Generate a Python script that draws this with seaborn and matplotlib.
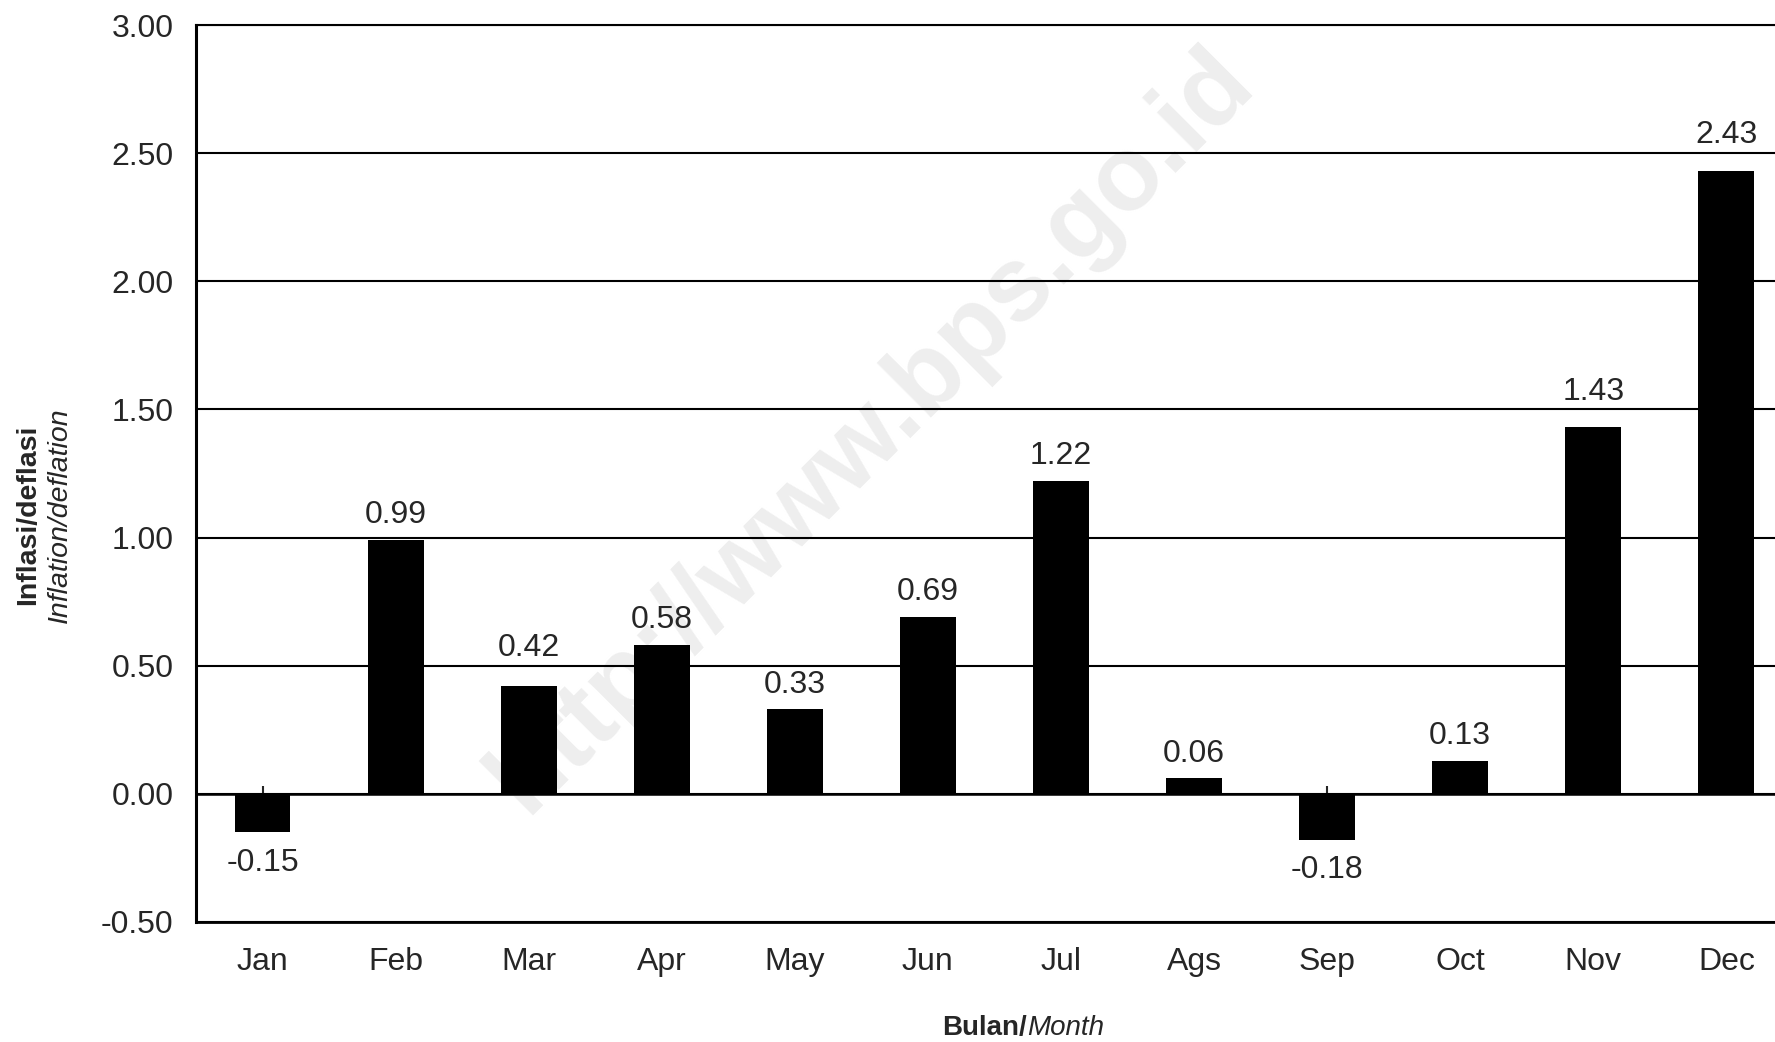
import matplotlib
matplotlib.use('Agg')
import matplotlib.pyplot as plt
import pandas as pd
import seaborn as sns

months = ['Jan', 'Feb', 'Mar', 'Apr', 'May', 'Jun', 'Jul', 'Ags', 'Sep', 'Oct', 'Nov', 'Dec']
inflation = [-0.15, 0.99, 0.42, 0.58, 0.33, 0.69, 1.22, 0.06, -0.18, 0.13, 1.43, 2.43]
yticks = [-0.5, 0.0, 0.5, 1.0, 1.5, 2.0, 2.5, 3.0]

sns.set_style('white')
plt.rcParams['font.family'] = ['Liberation Sans', 'DejaVu Sans']

df = pd.DataFrame({'Month': months, 'Inflation': inflation})

fig = plt.figure(figsize=(17.75, 10.42), dpi=100)
ax = fig.add_axes([0.1104, 0.1152, 0.8997, 0.8608])

sns.barplot(data=df, x='Month', y='Inflation', color='black', saturation=1,
            width=0.42, edgecolor='black', linewidth=0, ax=ax, zorder=2)

# value labels; move a label above a gridline when it would sit on top of it
for i, v in enumerate(inflation):
    if v < 0:
        ax.annotate(f'{v:.2f}', (i, v), xytext=(0, -11), textcoords='offset points',
                    ha='center', va='top', fontsize=23)
        continue
    base, off = v, 7
    for g in yticks:
        if v + 0.03 < g < v + 0.14:
            base, off = g, 2
    ax.annotate(f'{v:.2f}', (i, base), xytext=(0, off), textcoords='offset points',
                ha='center', va='bottom', fontsize=23)

ax.set_xlim(-0.5, 11.5)
ax.set_ylim(-0.5, 3.0)
ax.set_yticks(yticks)
ax.set_yticklabels([f'{v:.2f}' for v in yticks])
ax.yaxis.grid(True, color='black', linewidth=1.5)
ax.set_axisbelow(True)
ax.tick_params(axis='y', direction='in', length=5, width=1.5, pad=16, labelsize=23)
ax.tick_params(axis='x', length=0, pad=18, labelsize=23)
ax.set_xlabel('')
ax.set_ylabel('')

for s in ['left', 'bottom', 'top']:
    ax.spines[s].set_color('black')
ax.spines['left'].set_linewidth(2.2)
ax.spines['bottom'].set_linewidth(2.0)
ax.spines['top'].set_linewidth(1.5)
ax.spines['right'].set_visible(False)

# category axis crossing at zero, ticks pointing up
zero_ax = ax.secondary_xaxis(0.5 / 3.5)
zero_ax.set_xticks(range(len(months)))
zero_ax.tick_params(direction='in', length=6, width=1.5, labelbottom=False)
zero_ax.spines['bottom'].set_linewidth(2.0)

# watermark
ax.text(0.491, 0.587, 'http://www.bps.go.id', transform=fig.transFigure,
        rotation=45, ha='center', va='center', fontsize=76, fontweight='bold',
        color='#eeeeee', zorder=0)

fig.text(0.0158, 0.506, 'Inflasi/deflasi', rotation=90, ha='center', va='center',
         fontsize=20.5, fontweight='bold')
fig.text(0.0338, 0.506, 'Inflation/deflation', rotation=90, ha='center', va='center',
         fontsize=20.5, style='italic')
fig.text(0.5786, 0.0067, 'Bulan/', ha='right', va='baseline', fontsize=20, fontweight='bold')
fig.text(0.5786, 0.0067, 'Month', ha='left', va='baseline', fontsize=20, style='italic')

fig.savefig('out.png', dpi=100)
